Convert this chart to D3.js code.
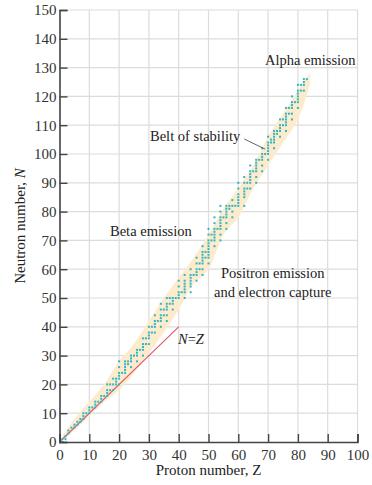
<!DOCTYPE html>
<html><head><meta charset="utf-8">
<script src="https://cdn.jsdelivr.net/npm/d3@7/dist/d3.min.js"></script>
<style>
html,body{margin:0;padding:0;background:#fff;}
svg{display:block;font-family:"Liberation Serif","Times New Roman",serif;}
</style></head>
<body><svg id="c" width="372" height="485"></svg>
<script>
// Stable nuclides: neutron numbers N for each proton number Z (index = Z-1)
const protonNumbers = d3.range(1, 84);
const neutronsByZ = [
 [0,1],[1,2],[3,4],[5],[5,6],[6,7],[7,8],[8,9,10],[10],[10,11,12],
 [12],[12,13,14],[14],[14,15,16],[16],[16,17,18,20],[18,20],[18,20,22],[20,21,22],[20,22,23,24,26,28],
 [24],[24,25,26,27,28],[27,28],[26,28,29,30],[30],[28,30,31,32],[32],[30,32,33,34,36],[34,36],[34,36,37,38,40],
 [38,40],[38,40,41,42,44],[42],[40,42,43,44,46,48],[44,46],[42,44,46,47,48,50],[48,50],[46,48,49,50],[50],[50,51,52,54,56],
 [52],[50,52,53,54,55,56,58],[],[52,54,55,56,57,58,60],[58],[56,58,59,60,62,64],[60,62],[58,60,62,63,64,65,66,68],[64,66],[62,64,65,66,67,68,69,70,72,74],
 [70,72],[68,70,71,72,73,74,76,78],[74],[70,72,74,75,76,77,78,80,82],[78],[74,76,78,79,80,81,82],[81,82],[78,80,82,84],[82],[82,83,84,85,86,88,90],
 [],[82,85,86,87,88,90,92],[88,90],[88,90,91,92,93,94,96],[94],[90,92,94,95,96,97,98],[98],[94,96,98,99,100,102],[100],[98,100,101,102,103,104,106],
 [104,105],[102,104,105,106,107,108],[107,108],[106,108,109,110,112],[110,112],[108,110,111,112,113,114,116],[114,116],[112,114,116,117,118,120],[118],[116,118,119,120,121,122,124],
 [122,124],[122,124,125,126],[126]
];
// Belt of stability outline
const beltZ     = [0, 5, 10, 15, 20, 25, 30, 35, 40, 45, 50, 55, 60, 65, 70, 75, 80, 84];
const beltUpper = [0.5, 8, 14, 20, 28, 34, 42, 50, 57, 64, 72, 81, 88, 96, 106, 114, 122, 128];
const beltLower = [0, 4, 9, 14, 18, 24, 31, 38, 46, 55, 60, 72, 78, 88, 96, 104, 112, 124];
// N = Z reference line
const nzLine = [0, 40];
// Axis ticks
const xTicks = d3.range(0, 101, 10);
const yTicks = d3.range(0, 151, 10);

const svg = d3.select("#c");
const x = d3.scaleLinear().domain([0, 100]).range([59.5, 357.5]);
const y = d3.scaleLinear().domain([0, 150]).range([442, 10]);

// grid
svg.append("g").selectAll("line").data(xTicks.slice(1)).join("line")
  .attr("x1", d => x(d)).attr("x2", d => x(d)).attr("y1", y(0)).attr("y2", y(150))
  .attr("stroke", "#dcdcdc").attr("stroke-width", 1.2);
svg.append("g").selectAll("line").data(yTicks.slice(1)).join("line")
  .attr("x1", x(0)).attr("x2", x(100)).attr("y1", d => y(d)).attr("y2", d => y(d))
  .attr("stroke", "#dcdcdc").attr("stroke-width", 1.2);

// belt
const beltPts = beltZ.map((z, i) => ({z, u: beltUpper[i], l: beltLower[i]}));
svg.append("path").datum(beltPts)
  .attr("d", d3.area().x(d => x(d.z)).y0(d => y(d.l)).y1(d => y(d.u)).curve(d3.curveCatmullRom))
  .attr("fill", "#fdebcb");

// N = Z line
svg.append("line").attr("x1", x(nzLine[0])).attr("y1", y(nzLine[0]))
  .attr("x2", x(nzLine[1])).attr("y2", y(nzLine[1]))
  .attr("stroke", "#e2566c").attr("stroke-width", 1.1);

// stable nuclide dots
const pts = [];
protonNumbers.forEach((z, i) => neutronsByZ[i].forEach(n => pts.push({z, n})));
svg.append("g").selectAll("rect").data(pts).join("rect")
  .attr("x", d => x(d.z) - 1).attr("y", d => y(d.n) - 1)
  .attr("width", 2).attr("height", 2).attr("fill", "#2fb6c8");

// axes
const axisColor = "#444";
const xAxis = svg.append("g").attr("transform", `translate(0,${y(0)})`)
  .call(d3.axisBottom(x).tickValues(xTicks).tickSize(-8).tickPadding(4));
const yAxis = svg.append("g").attr("transform", `translate(${x(0)},0)`)
  .call(d3.axisLeft(y).tickValues(yTicks).tickSize(-8).tickPadding(5));
[xAxis, yAxis].forEach(g => {
  g.select(".domain").attr("stroke", axisColor).attr("stroke-width", 1.6);
  g.selectAll(".tick line").attr("stroke", axisColor).attr("stroke-width", 1.4);
  g.selectAll(".tick text").attr("fill", "#333").attr("font-size", 15)
    .attr("font-family", "Liberation Serif, serif");
});
xAxis.selectAll(".tick text").attr("dy", "0.9em");
yAxis.selectAll(".tick text").attr("x", -3);

// axis titles
svg.append("text").attr("x", (x(0) + x(100)) / 2).attr("y", 475).attr("text-anchor", "middle")
  .attr("font-size", 15).attr("fill", "#222").text("Proton number, Z");
const yt = svg.append("text").attr("transform", `translate(25,${(y(0) + y(150)) / 2}) rotate(-90)`)
  .attr("text-anchor", "middle").attr("font-size", 15).attr("fill", "#222");
yt.append("tspan").text("Neutron number, ");
yt.append("tspan").attr("font-style", "italic").text("N");

// annotations
const ann = (t, px, py) => svg.append("text").attr("x", px).attr("y", py)
  .attr("font-size", 14.5).attr("fill", "#222").text(t);
ann("Alpha emission", 265, 65);
ann("Belt of stability", 150, 141);
ann("Beta emission", 110, 236);
ann("Positron emission", 221, 278);
ann("and electron capture", 214, 297);
const nz = svg.append("text").attr("x", 178).attr("y", 344).attr("font-size", 14.5).attr("fill", "#222");
nz.append("tspan").attr("font-style", "italic").text("N");
nz.append("tspan").text("=");
nz.append("tspan").attr("font-style", "italic").text("Z");

// belt pointer
svg.append("line").attr("x1", x(62)).attr("y1", y(105.2)).attr("x2", x(69)).attr("y2", y(101.7))
  .attr("stroke", "#555").attr("stroke-width", 0.9);
</script></body></html>
